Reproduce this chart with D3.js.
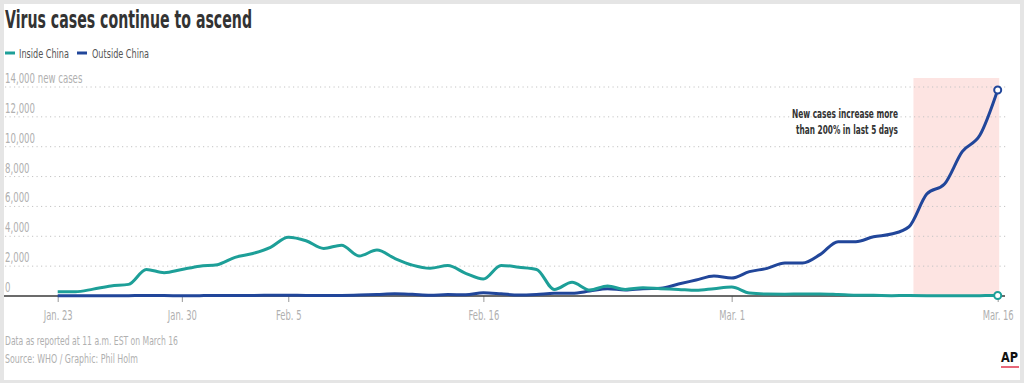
<!DOCTYPE html>
<html>
<head>
<meta charset="utf-8">
<script src="https://cdn.jsdelivr.net/npm/d3@7"></script>
<style>
  html, body { margin: 0; padding: 0; background: #fff; }
  svg { display: block; }
  text { font-family: "Liberation Sans Narrow", "DejaVu Sans Condensed", "Roboto Condensed", "Open Sans", sans-serif; font-stretch: condensed; }
</style>
</head>
<body>
<svg id="chart" width="1024" height="383"></svg>
<script>
// ---- Data ----
const startDay = "2020-01-23";
const insideChina = [280, 280, 460, 670, 780, 1780, 1560, 1780, 2000, 2100,
  2590, 2850, 3260, 3930, 3700, 3190, 3400, 2680, 3080, 2520,
  2070, 1860, 2040, 1520, 1140, 2050, 1930, 1780, 440, 920,
  400, 670, 440, 550, 490, 440, 380, 490, 600, 200,
  130, 120, 140, 140, 100, 50, 45, 25, 30, 25,
  15, 18, 25, 30];
const outsideChina = [10, 15, 20, 20, 25, 30, 30, 20, 25, 30,
  40, 40, 45, 50, 40, 40, 40, 60, 100, 150,
  110, 50, 100, 80, 220, 150, 60, 100, 180, 180,
  330, 490, 400, 490, 520, 800, 1070, 1340, 1200, 1630,
  1850, 2210, 2210, 2790, 3640, 3640, 3970, 4150, 4640, 6830,
  7500, 9670, 10780, 13800];
const seriesNames = ["Inside China", "Outside China"];
const yTicks = [0, 2000, 4000, 6000, 8000, 10000, 12000, 14000];
const yUnitLabel = " new cases";
const xTickDates = ["2020-01-23", "2020-01-30", "2020-02-05", "2020-02-16", "2020-03-01", "2020-03-16"];
const xTickLabels = ["Jan. 23", "Jan. 30", "Feb. 5", "Feb. 16", "Mar. 1", "Mar. 16"];
const highlightRange = ["2020-03-11T06:00:00Z", "2020-03-16T00:00:00Z"];
const annotationLines = ["New cases increase more", "than 200% in last 5 days"];
const titleText = "Virus cases continue to ascend";
const footerLines = ["Data as reported at 11 a.m. EST on March 16", "Source: WHO / Graphic: Phil Holm"];

// ---- Setup ----
const colors = { inside: "#1d9f98", outside: "#21469a" };
const parse = s => new Date(s.length === 10 ? s + "T00:00:00Z" : s);
const start = parse(startDay);
const dates = insideChina.map((_, i) => d3.utcDay.offset(start, i));

const svg = d3.select("#chart");
// frame
svg.append("rect").attr("width", 1024).attr("height", 383).attr("fill", "#e5e5e5");
svg.append("rect").attr("x", 4).attr("y", 4).attr("width", 1016).attr("height", 376).attr("fill", "#fff");

const x = d3.scaleUtc().domain([dates[0], dates[dates.length - 1]]).range([57.7, 997.7]);
const y = d3.scaleLinear().domain([0, 14000]).range([296, 87]);

// helper: condense text to a width ratio
function condense(sel, k) {
  sel.each(function () {
    const w = this.getComputedTextLength();
    d3.select(this).attr("textLength", w * k).attr("lengthAdjust", "spacingAndGlyphs");
  });
}

// title
svg.append("text").attr("x", 5).attr("y", 28).text(titleText)
  .attr("font-size", 25).attr("font-weight", "bold").attr("fill", "#333")
  .attr("textLength", 247).attr("lengthAdjust", "spacingAndGlyphs");

// legend
const legend = [
  { name: seriesNames[0], color: colors.inside, x0: 5, tx: 19, w: 50 },
  { name: seriesNames[1], color: colors.outside, x0: 77, tx: 92, w: 57 }
];
legend.forEach(l => {
  svg.append("line").attr("x1", l.x0).attr("x2", l.x0 + 10).attr("y1", 53).attr("y2", 53)
    .attr("stroke", l.color).attr("stroke-width", 3);
  svg.append("text").attr("x", l.tx).attr("y", 58).text(l.name)
    .attr("font-size", 13).attr("fill", "#555")
    .attr("textLength", l.w).attr("lengthAdjust", "spacingAndGlyphs");
});

// highlight
svg.append("rect")
  .attr("x", x(parse(highlightRange[0])))
  .attr("width", x(parse(highlightRange[1])) - x(parse(highlightRange[0])) + 1.5)
  .attr("y", 78).attr("height", y(0) - 78)
  .attr("fill", "#fde4e2");

// gridlines & y labels
const yLabelGroup = svg.append("g");
yTicks.forEach(t => {
  if (t > 0) {
    svg.append("line").attr("x1", 5).attr("x2", 1008).attr("y1", y(t)).attr("y2", y(t))
      .attr("stroke", "#c4c4c4").attr("stroke-width", 1).attr("stroke-dasharray", "1.2,3.3");
  }
});
yTicks.forEach(t => {
  const isTop = t === yTicks[yTicks.length - 1];
  yLabelGroup.append("text").attr("x", 5).attr("y", y(t) - 4)
    .attr("font-size", 13.5).attr("fill", "#b0b0b0")
    .text(d3.format(",")(t) + (isTop ? yUnitLabel : ""));
});
{
  const ref = yLabelGroup.selectAll("text").filter(function () { return this.textContent === "12,000"; }).node();
  const k = 30 / ref.getComputedTextLength();
  condense(yLabelGroup.selectAll("text"), k);
}

// x axis
const xAxis = d3.axisBottom(x)
  .tickValues(xTickDates.map(parse))
  .tickFormat((d, i) => xTickLabels[i])
  .tickSize(6).tickPadding(8);
const gx = svg.append("g").attr("transform", `translate(0,${y(0)})`).call(xAxis);
gx.select(".domain").remove();
gx.selectAll(".tick line").attr("stroke", "#999");
gx.selectAll(".tick text").attr("fill", "#b0b0b0").attr("font-size", 13.5)
  .attr("font-family", null);
{
  const ref = gx.selectAll(".tick text").nodes()[0];
  const k = 29 / ref.getComputedTextLength();
  gx.selectAll(".tick text").attr("transform", `scale(${k},1)`);
}
svg.append("line").attr("x1", 4).attr("x2", 1005).attr("y1", y(0)).attr("y2", y(0))
  .attr("stroke", "#3a3a3a").attr("stroke-width", 1.3);

// lines
const line = d3.line().x((d, i) => x(dates[i])).y(d => y(d)).curve(d3.curveMonotoneX);
svg.append("path").datum(outsideChina).attr("d", line)
  .attr("fill", "none").attr("stroke", colors.outside).attr("stroke-width", 3)
  .attr("stroke-linejoin", "round");
svg.append("path").datum(insideChina).attr("d", line)
  .attr("fill", "none").attr("stroke", colors.inside).attr("stroke-width", 3)
  .attr("stroke-linejoin", "round");

// end markers
const last = dates.length - 1;
[[outsideChina, colors.outside], [insideChina, colors.inside]].forEach(([s, c]) => {
  svg.append("circle").attr("cx", x(dates[last])).attr("cy", y(s[last])).attr("r", 3.5)
    .attr("fill", "#fff").attr("stroke", c).attr("stroke-width", 2);
});

// annotation
annotationLines.forEach((t, i) => {
  svg.append("text").attr("x", 898).attr("y", 118 + i * 16).attr("text-anchor", "end")
    .attr("font-size", 13).attr("font-weight", "bold").attr("fill", "#333").text(t)
    .attr("textLength", i === 0 ? 106 : 102).attr("lengthAdjust", "spacingAndGlyphs");
});

// footer
footerLines.forEach((t, i) => {
  svg.append("text").attr("x", 5).attr("y", 345 + i * 18).text(t)
    .attr("font-size", 11.5).attr("fill", "#b0b0b0")
    .attr("textLength", i === 0 ? 173 : 133).attr("lengthAdjust", "spacingAndGlyphs");
});

// AP logo
svg.append("text").attr("x", 1001).attr("y", 362).text("AP")
  .attr("font-size", 14).attr("font-weight", "bold").attr("fill", "#111")
  .attr("font-family", "Liberation Sans, Arial, sans-serif")
  .attr("textLength", 17).attr("lengthAdjust", "spacingAndGlyphs");
svg.append("line").attr("x1", 1001).attr("x2", 1019).attr("y1", 367).attr("y2", 367)
  .attr("stroke", "#e0344c").attr("stroke-width", 1.5);
</script>
</body>
</html>
